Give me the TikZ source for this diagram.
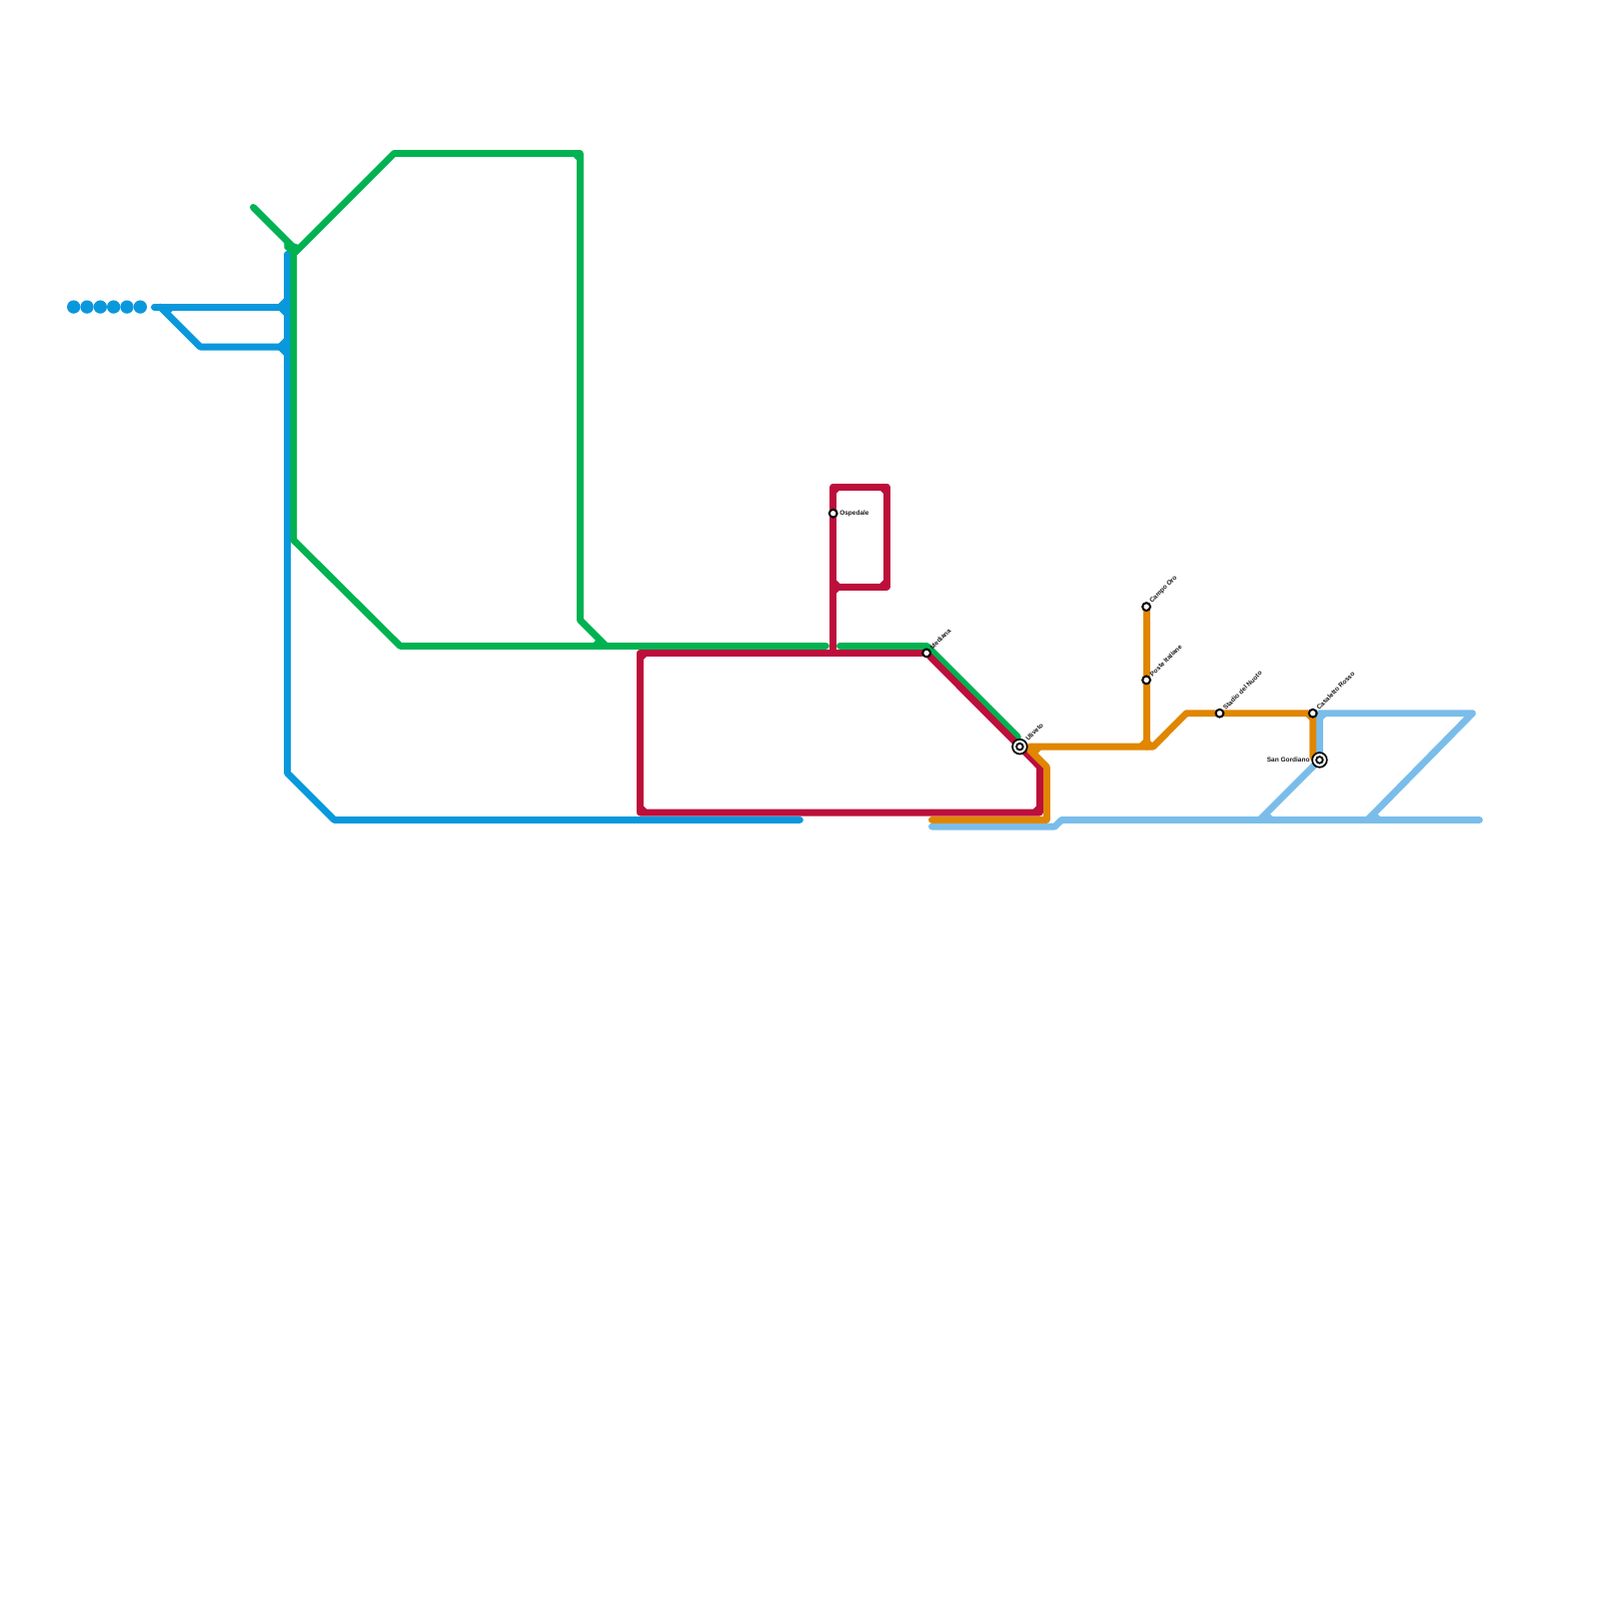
\documentclass[tikz,border=0pt]{standalone}
\usepackage{fontspec}
\setmainfont{Liberation Sans}
\usetikzlibrary{backgrounds}
\definecolor{lineblue}{HTML}{0A98DC}
\definecolor{linegreen}{HTML}{00B251}
\definecolor{linered}{HTML}{BC0F3B}
\definecolor{lineorange}{HTML}{E08600}
\definecolor{linesky}{HTML}{7ABDEA}
\tikzset{
  line/.style={line width=.68mm,line cap=round,line join=round},
  stop/.style={circle,draw=black,fill=white,line width=.2mm,minimum size=.78mm,inner sep=0pt},
  interchange/.style={circle,draw=black,fill=white,line width=.17mm,minimum size=1.47mm,inner sep=0pt,
    path picture={\draw[black,line width=.18mm] (path picture bounding box.center) circle (.33mm);}},
  stoplabel/.style={font=\bfseries\fontsize{1.85}{2.3}\selectfont,inner sep=.1mm,text=black!90},
  rising/.style={stoplabel,rotate=45,anchor=west},
  dot/.style={circle,fill=lineblue,minimum size=1.33mm,inner sep=0pt}
}

\begin{document}
\begin{tikzpicture}[x=.1mm,y=-.1mm]
\useasboundingbox (-.4,-.4) rectangle (1599.6,1599.6);
% stations
\node[stop,label={[stoplabel]right:Ospedale}] (ospedale) at (833.3,513.3) {};
\node[stop,label={[rising]45:Mediana}] (mediana) at (926.7,653) {};
\node[interchange,label={[rising]45:Uliveto}] (uliveto) at (1020,746.7) {};
\node[stop,label={[rising]45:Campo Oro}] (campooro) at (1146.7,606.7) {};
\node[stop,label={[rising]45:Poste Italiane}] (poste) at (1146.7,680) {};
\node[stop,label={[rising]45:Stadio del Nuoto}] (stadio) at (1220,713.3) {};
\node[stop,label={[rising]45:Casaletto Rosso}] (casaletto) at (1313.3,713.3) {};
\node[interchange,label={[stoplabel]left:San Gordiano}] (gordiano) at (1320,760) {};
\foreach \i in {0,...,5} {
  \node[dot] (dot\i) at (73.3+13.33*\i,306.7) {};
}
% blue
\coordinate (b1) at (287,254);
\coordinate (b2) at (287,773);
\coordinate (b3) at (334,820);
\coordinate (b4) at (800,820);
\coordinate (b5) at (154,306.7);
\coordinate (b6) at (287,306.7);
\coordinate (b7) at (160,306.7);
\coordinate (b8) at (200,346.7);
\coordinate (b9) at (287,346.7);
% green
\coordinate (g1) at (253,207);
\coordinate (g2) at (293,247);
\coordinate (g3) at (394,153);
\coordinate (g4) at (580,153);
\coordinate (g5) at (580,620);
\coordinate (g6) at (606,646);
\coordinate (g7) at (293.3,252);
\coordinate (g8) at (293.3,540);
\coordinate (g9) at (400,646);
\coordinate (g10) at (826,646);
\coordinate (g11) at (840,646);
\coordinate (g12) at (927,646);
\coordinate (g13) at (1018,737);
\coordinate (g15) at (295,252);
% red
\coordinate (r1) at (640,653);
\coordinate (r2) at (640,812.7);
\coordinate (r3) at (1040,812.7);
\coordinate (r4) at (1040,767);
\coordinate (r5) at (833.3,653);
\coordinate (r6) at (833.3,486.7);
\coordinate (r7) at (886.7,486.7);
\coordinate (r8) at (886.7,586.7);
\coordinate (r9) at (833.3,586.7);
% orange
\coordinate (o1) at (932,820);
\coordinate (o2) at (1047,820);
\coordinate (o3) at (1047,767);
\coordinate (o4) at (1030,750);
\coordinate (o5) at (1030,746.7);
\coordinate (o6) at (1153.5,746.7);
\coordinate (o7) at (1186.7,713.3);
\coordinate (o8) at (1146.7,746.7);
\coordinate (o9) at (1313.3,757);
% sky
\coordinate (s1) at (1473,713.3);
\coordinate (s2) at (1368,820);
\coordinate (s3) at (1260,820);
\coordinate (s4) at (1480,820);
\coordinate (s5) at (932,826.7);
\coordinate (s6) at (1055,826.7);
\coordinate (s7) at (1062,820);
\coordinate (s8) at (1320,713.3);
\begin{scope}[on background layer]
\draw[line,lineblue] (b1) -- (b2) -- (b3) -- (b4);
\draw[line,lineblue] (b5) -- (b6);
\draw[line,lineblue] (b7) -- (b8) -- (b9);
\fill[lineblue] (275,306.7) -- (287,294.7) -- (287,318.7) -- cycle;
\fill[lineblue] (275,346.7) -- (287,334.7) -- (287,358.7) -- cycle;
\fill[lineblue] (160,306.7) -- (176,306.7) -- (168,315) -- cycle;
\draw[line,linegreen] (g1) -- (g2);
\draw[line,linegreen] (g15) -- (g3) -- (g4) -- (g5) -- (g6);
\draw[line,linegreen] (g7) -- (g8) -- (g9) -- (g10);
\draw[line,linegreen] (g11) -- (g12) -- (g13);
\fill[linegreen] (284,240) -- (300,245) -- (293,256) -- (284,248) -- cycle;
\fill[linegreen] (570,153) -- (580,153) -- (580,163) -- cycle;
\fill[linegreen] (590,646) -- (606,646) -- (598,638) -- cycle;
\draw[line,linered] (r2) -- (r1) -- (mediana) -- (uliveto) -- (r4) -- (r3) -- (r2);
\draw[line,linered] (r5) -- (ospedale) -- (r6) -- (r7) -- (r8) -- (r9);
\fill[linered] (640,653) -- (650,653) -- (640,663) -- cycle;
\fill[linered] (640,812.7) -- (650,812.7) -- (640,802.7) -- cycle;
\fill[linered] (833.3,486.7) -- (843,486.7) -- (833.3,496.7) -- cycle;
\fill[linered] (886.7,486.7) -- (877,486.7) -- (886.7,496.7) -- cycle;
\fill[linered] (886.7,586.7) -- (877,586.7) -- (886.7,576.7) -- cycle;
\fill[linered] (833.3,576.7) -- (843,586.7) -- (833.3,596.7) -- cycle;
\fill[linered] (1040,812.7) -- (1030,812.7) -- (1040,802.7) -- cycle;
\draw[line,linesky] (gordiano) -- (s8) -- (s1) -- (s2);
\draw[line,linesky] (gordiano) -- (s3);
\draw[line,linesky] (s5) -- (s6) -- (s7) -- (s4);
\fill[linesky] (1320,723) -- (1320,713.3) -- (1330,713.3) -- cycle;
\fill[linesky] (1463,713.3) -- (1473,713.3) -- (1468,721) -- cycle;
\fill[linesky] (1262,820) -- (1277,820) -- (1268,812) -- cycle;
\fill[linesky] (1370,820) -- (1384,820) -- (1376,812) -- cycle;
\draw[line,lineorange] (o1) -- (o2) -- (o3) -- (o4);
\draw[line,lineorange] (o5) -- (o6) -- (o7) -- (stadio) -- (casaletto) -- (o9);
\draw[line,lineorange] (campooro) -- (poste) -- (o8);
\fill[lineorange] (1136.7,746.7) -- (1146.7,736.7) -- (1156.7,746.7) -- cycle;
\fill[lineorange] (1303.3,713.3) -- (1313.3,713.3) -- (1313.3,723.3) -- cycle;
\fill[lineorange] (1030,746.7) -- (1044,746.7) -- (1036,756) -- cycle;
\end{scope}
\end{tikzpicture}
\end{document}
